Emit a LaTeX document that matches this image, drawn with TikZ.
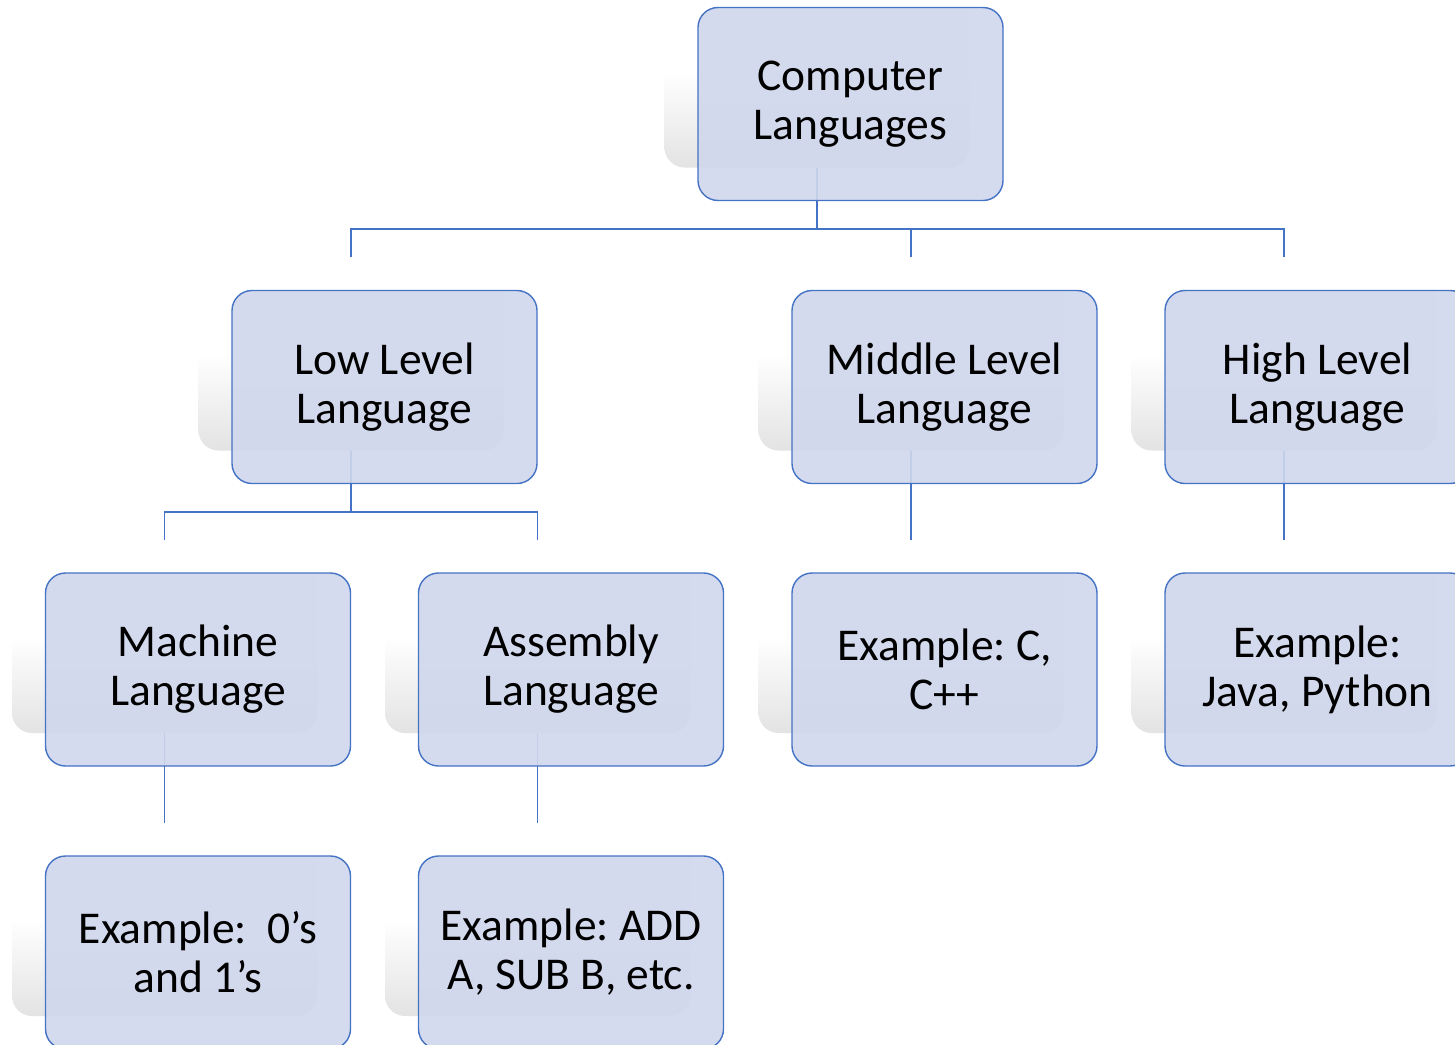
\documentclass[tikz,border=0pt]{standalone}
\usepackage{fontspec}
\setmainfont{Carlito}
\frenchspacing
\definecolor{boxfill}{RGB}{208,215,236}
\definecolor{boxline}{RGB}{68,114,196}
% soft fade: white over the upper half, light grey at the bottom edge
\pgfdeclareverticalshading{backfade}{100bp}{
  color(0bp)=(black!11); color(25bp)=(black!11);
  color(50bp)=(white); color(100bp)=(white)}
\tikzset{
  card/.style={rectangle, rounded corners=20pt, minimum width=305pt,
    minimum height=193pt, inner sep=0pt, align=center},
  box/.style={card, draw=boxline, line width=1.4pt, fill=boxfill,
    fill opacity=0.9, text opacity=1, font=\fontsize{45.5}{49}\selectfont},
  backdrop/.style={card, shading=backfade, draw=none},
  link/.style={draw=boxline, line width=1.3pt}
}
\begin{document}
\begin{tikzpicture}[x=1pt, y=-1pt]
\useasboundingbox (0,0) rectangle (1455,1044);
\clip (0,0) rectangle (1455,1044);

% soft backdrops, offset up and to the left of each card
\node[backdrop] (topB)  at (817,71)    {};
\node[backdrop] (lowB)  at (351,354)   {};
\node[backdrop] (midB)  at (911,354)   {};
\node[backdrop] (higB)  at (1284,354)  {};
\node[backdrop] (macB)  at (164.5,636.5) {};
\node[backdrop] (asmB)  at (537.5,636.5) {};
\node[backdrop] (excB)  at (911,636.5) {};
\node[backdrop] (exjB)  at (1284,636.5) {};
\node[backdrop] (ex0B)  at (164.5,919.5) {};
\node[backdrop] (exaB)  at (537.5,919.5) {};

% bus levels
\coordinate (bus1) at (0,229);
\coordinate (bus2) at (0,512);

% connectors
\draw[link] (topB.south) |- (bus1 -| lowB.north) -- (lowB.north);
\draw[link] (topB.south) |- (bus1 -| midB.north) -- (midB.north);
\draw[link] (topB.south) |- (bus1 -| higB.north) -- (higB.north);
\draw[link] (lowB.south) |- (bus2 -| macB.north) -- (macB.north);
\draw[link] (lowB.south) |- (bus2 -| asmB.north) -- (asmB.north);
\draw[link] (midB.south) -- (excB.north);
\draw[link] (higB.south) -- (exjB.north);
\draw[link] (macB.south) -- (ex0B.north);
\draw[link] (asmB.south) -- (exaB.north);

% cards
\node[box] (top) at (850.5,104)   {Computer\\Languages};
\node[box] (low) at (384.5,387)   {Low Level\\Language};
\node[box] (mid) at (944.5,387)   {Middle Level\\Language};
\node[box] (hig) at (1317.5,387)  {High Level\\Language};
\node[box] (mac) at (198,669.5)   {Machine\\Language};
\node[box] (asm) at (571,669.5)   {Assembly\\Language};
\node[box] (exc) at (944.5,669.5) {Example: C,\\C++};
\node[box] (exj) at (1317.5,669.5){Example:\\Java, Python};
\node[box] (ex0) at (198,952.5)   {Example:~ 0’s\\and 1’s};
\node[box] (exa) at (571,952.5)   {Example: ADD\\A, SUB B, etc.};
\end{tikzpicture}
\end{document}
